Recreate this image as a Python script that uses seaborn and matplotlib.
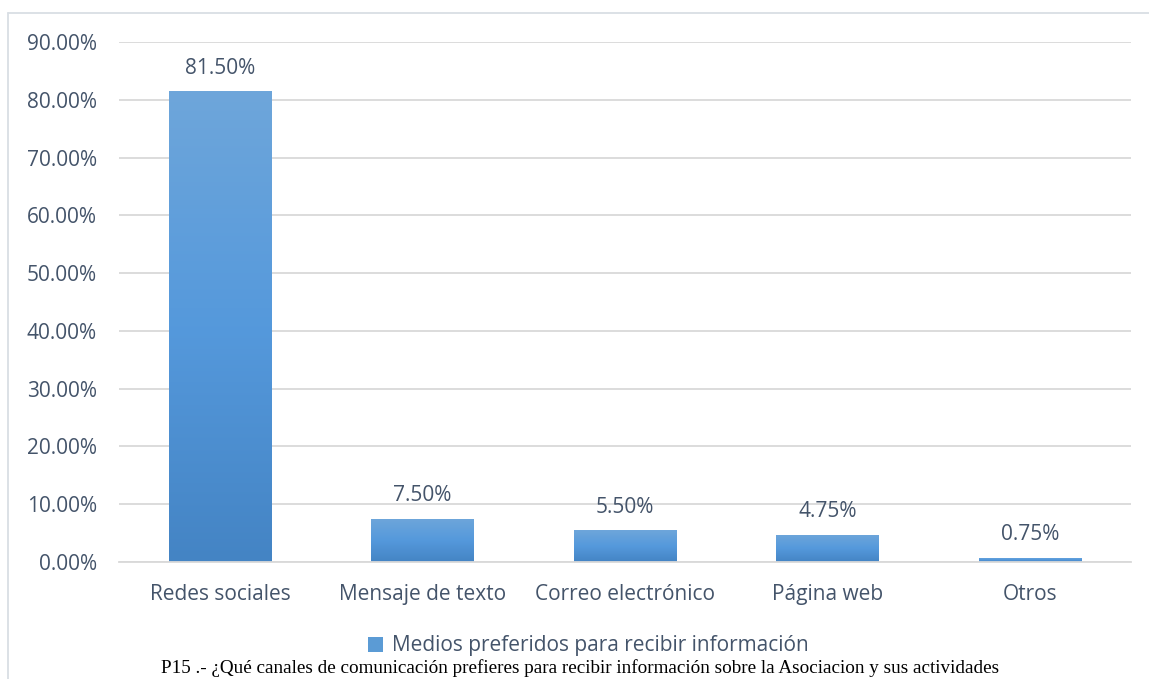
import numpy as np
import pandas as pd
import matplotlib
matplotlib.use("Agg")
import matplotlib.pyplot as plt
from matplotlib.colors import LinearSegmentedColormap
from matplotlib.patches import Patch
from matplotlib.lines import Line2D
import seaborn as sns

categories = ["Redes sociales", "Mensaje de texto", "Correo electrónico", "Página web", "Otros"]
values = [81.50, 7.50, 5.50, 4.75, 0.75]
y_ticks = [0, 10, 20, 30, 40, 50, 60, 70, 80, 90]
series_name = "Medios preferidos para recibir información"
caption = ("P15 .- ¿Qué canales de comunicación prefieres para recibir información "
           "sobre la Asociacion y sus actividades")

sns.set_theme(style="white")
plt.rcParams["font.family"] = ["Open Sans", "DejaVu Sans"]

TEXT = "#44546A"
GRID = "#D9D9D9"

W, H = 1149, 679
fig = plt.figure(figsize=(W / 100, H / 100), dpi=100)
ax = fig.add_axes([119 / W, 1 - 562 / H, (1131 - 119) / W, (562 - 42) / H])

df = pd.DataFrame({"canal": categories, "pct": values})
sns.barplot(data=df, x="canal", y="pct", ax=ax, width=0.505, color="#5B9BD5",
            saturation=1, edgecolor="none")

ax.set_ylim(0, 90)
ax.set_yticks(y_ticks)
ax.set_yticklabels([f"{t:.2f}%" for t in y_ticks])
ax.set_xlabel("")
ax.set_ylabel("")
ax.yaxis.grid(True, color=GRID, linewidth=1.3)
ax.set_axisbelow(True)
for s in ["top", "right", "left"]:
    ax.spines[s].set_visible(False)
ax.spines["bottom"].set_color(GRID)
ax.spines["bottom"].set_linewidth(1.3)
ax.tick_params(axis="both", length=0, labelsize=15, colors=TEXT)
ax.tick_params(axis="y", pad=16)
ax.tick_params(axis="x", pad=16)

# vertical gradient fill inside each bar, lighter at the top
grad = LinearSegmentedColormap.from_list("barfill", ["#4484C4", "#5599DC", "#6EA6DA"])
gimg = np.linspace(0, 1, 256).reshape(-1, 1)
for patch, v in zip(ax.patches, values):
    x0, y0 = patch.get_x(), patch.get_y()
    w, h = patch.get_width(), patch.get_height()
    im = ax.imshow(gimg, cmap=grad, origin="lower", aspect="auto",
                   extent=(x0, x0 + w, y0, y0 + h), zorder=2)
    im.set_clip_path(patch)
    patch.set_facecolor("none")
    ax.annotate(f"{v:.2f}%", (x0 + w / 2, y0 + h), xytext=(0, 9),
                textcoords="offset points", ha="center", va="bottom",
                fontsize=15, color=TEXT)
ax.set_xlim(-0.5, len(categories) - 0.5)

# legend below the plot
fig.legend(handles=[Patch(facecolor="#5B9BD5", edgecolor="none")], labels=[series_name],
           loc="center", bbox_to_anchor=(588 / W, 1 - 646 / H), frameon=False,
           fontsize=15, labelcolor=TEXT, handlelength=0.75, handleheight=0.75,
           handletextpad=0.4)

# caption
fig.text(580 / W, 1 - 668 / H, caption, ha="center", va="center",
         fontsize=13.8, family=["Liberation Serif", "DejaVu Serif"], color="black")

# chart area frame (top and left edges)
fig.add_artist(Line2D([8 / W, 1.0], [1 - 12.5 / H, 1 - 12.5 / H], color="#D9DEE4",
                      linewidth=1.3, transform=fig.transFigure))
fig.add_artist(Line2D([8 / W, 8 / W], [0, 1 - 12.5 / H], color="#D9DEE4",
                      linewidth=1.3, transform=fig.transFigure))

fig.savefig("out.png", dpi=100)
